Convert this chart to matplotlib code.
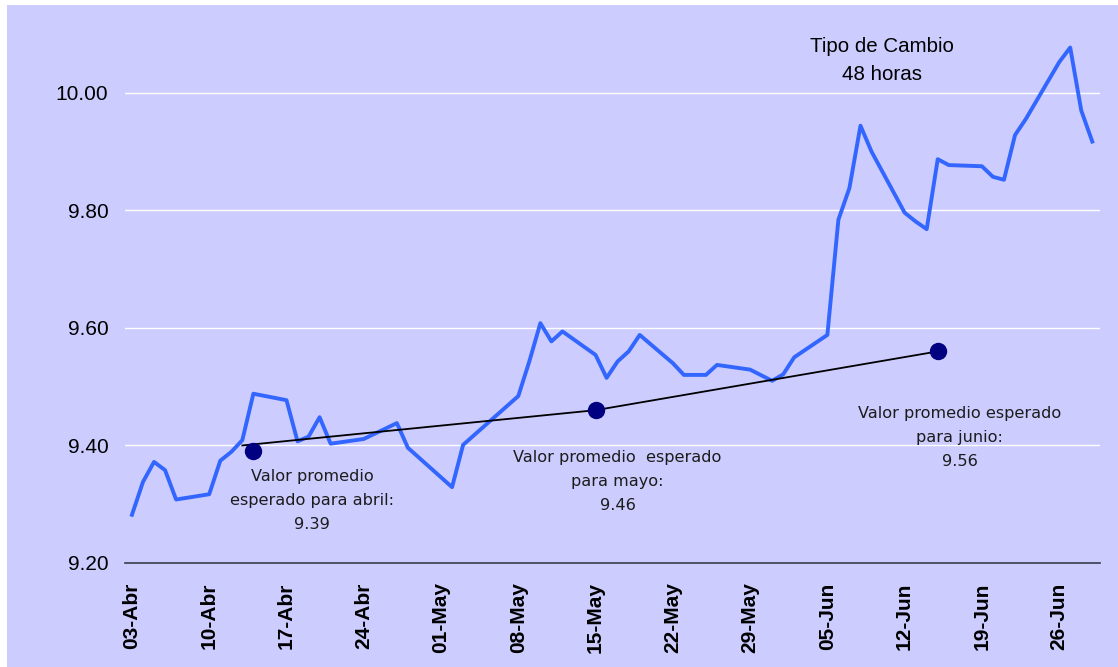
import matplotlib
matplotlib.use("Agg")
import matplotlib.pyplot as plt
import matplotlib.dates as mdates
import pandas as pd
from matplotlib.patches import Rectangle

# Tipo de cambio 48 horas, abril-junio 2000 (pesos por dólar)
fechas = [
    "2000-04-03", "2000-04-04", "2000-04-05", "2000-04-06", "2000-04-07",
    "2000-04-10", "2000-04-11", "2000-04-12", "2000-04-13", "2000-04-14",
    "2000-04-17", "2000-04-18", "2000-04-19", "2000-04-20", "2000-04-21",
    "2000-04-24", "2000-04-27", "2000-04-28",
    "2000-05-02", "2000-05-03",
    "2000-05-08", "2000-05-09", "2000-05-10", "2000-05-11", "2000-05-12",
    "2000-05-15", "2000-05-16", "2000-05-17", "2000-05-18", "2000-05-19",
    "2000-05-22", "2000-05-23", "2000-05-25", "2000-05-26",
    "2000-05-29", "2000-05-31", "2000-06-01", "2000-06-02",
    "2000-06-05", "2000-06-06", "2000-06-07", "2000-06-08", "2000-06-09",
    "2000-06-12", "2000-06-13", "2000-06-14", "2000-06-15", "2000-06-16",
    "2000-06-19", "2000-06-20", "2000-06-21", "2000-06-22", "2000-06-23",
    "2000-06-26", "2000-06-27", "2000-06-28", "2000-06-29",
]
tipo_cambio = [
    9.282, 9.338, 9.372, 9.358, 9.308,
    9.317, 9.374, 9.389, 9.409, 9.488,
    9.477, 9.407, 9.415, 9.448, 9.403,
    9.411, 9.438, 9.396,
    9.329, 9.401,
    9.484, 9.543, 9.608, 9.577, 9.594,
    9.554, 9.515, 9.543, 9.560, 9.588,
    9.540, 9.520, 9.520, 9.537,
    9.529, 9.510, 9.521, 9.550,
    9.588, 9.784, 9.838, 9.944, 9.900,
    9.796, 9.781, 9.768, 9.887, 9.877,
    9.875, 9.857, 9.852, 9.928, 9.956,
    10.052, 10.077, 9.970, 9.917,
]

# Valor promedio esperado por mes
fechas_esperado = ["2000-04-14", "2000-05-15", "2000-06-15"]
valor_esperado = [9.39, 9.46, 9.56]

# Trayectoria de las expectativas
fechas_tendencia = ["2000-04-13", "2000-05-15", "2000-06-15"]
valor_tendencia = [9.40, 9.46, 9.56]

etiquetas_x = ["03-Abr", "10-Abr", "17-Abr", "24-Abr", "01-May", "08-May",
               "15-May", "22-May", "29-May", "05-Jun", "12-Jun", "19-Jun",
               "26-Jun"]
ticks_y = [9.20, 9.40, 9.60, 9.80, 10.00]

notas = [
    "Valor promedio\nesperado para abril:\n9.39",
    "Valor promedio  esperado\npara mayo:\n9.46",
    "Valor promedio esperado\npara junio:\n9.56",
]

FONDO = "#CCCCFF"
AZUL = "#3366FF"
NAVY = "#000080"


def to_num(dates):
    return mdates.date2num(pd.to_datetime(dates))


W, H = 1118, 667
fig = plt.figure(figsize=(W / 100, H / 100), dpi=100, facecolor="white")
fondo = Rectangle((7 / W, 0), 1 - 7 / W, 1 - 5 / H, transform=fig.transFigure,
                  facecolor=FONDO, edgecolor="none", zorder=-10)
fig.add_artist(fondo)

ax = fig.add_axes([125 / W, 1 - 563 / H, 975 / W, 529 / H], zorder=1)
ax.set_facecolor("none")

x = to_num(fechas)
ax.plot(x, tipo_cambio, color=AZUL, linewidth=2.8, solid_joinstyle="round",
        zorder=3)
ax.plot(to_num(fechas_tendencia), valor_tendencia, color="black",
        linewidth=1.3, zorder=4)
ax.plot(to_num(fechas_esperado), valor_esperado, "o", color=NAVY,
        markersize=11.5, zorder=5)

x0 = to_num(["2000-04-03"])[0]
ax.set_xlim(x0 - 0.63, x0 + 87.7)
ax.set_ylim(9.20, 10.10)

ticks_x = x0 + 7 * pd.RangeIndex(len(etiquetas_x)).to_numpy()
ax.set_xticks(ticks_x)
ax.set_xticklabels(etiquetas_x, rotation=90, fontsize=15, fontweight="bold",
                   family="Liberation Sans")
ax.set_yticks(ticks_y)
ax.set_yticklabels([f"{v:.2f}" for v in ticks_y], fontsize=15,
                   family="Liberation Sans")
ax.tick_params(axis="x", length=0, pad=14)
ax.tick_params(axis="y", length=0, pad=12)

for v in ticks_y[1:]:
    ax.axhline(v, color="white", linewidth=1.0, zorder=1)
for s in ("top", "right", "left"):
    ax.spines[s].set_visible(False)
ax.spines["bottom"].set_color("#3a3a4a")
ax.spines["bottom"].set_linewidth(1.2)

# Notas de cada valor esperado: (día desde 03-Abr, valor al centro del bloque)
pos_notas = [(16.3, 9.306), (44.0, 9.339), (75.0, 9.414)]
for texto, (d, yv) in zip(notas, pos_notas):
    ax.text(x0 + d, yv, texto, ha="center", va="center", fontsize=11.6,
            family="DejaVu Sans", color="#1c1c1c", linespacing=1.75,
            zorder=6)

fig.text(882 / W, 1 - 60 / H, "Tipo de Cambio\n48 horas", ha="center",
         va="center", fontsize=14.8, family="Liberation Sans",
         linespacing=1.6)

fig.savefig("out.png", dpi=100, facecolor="white")
